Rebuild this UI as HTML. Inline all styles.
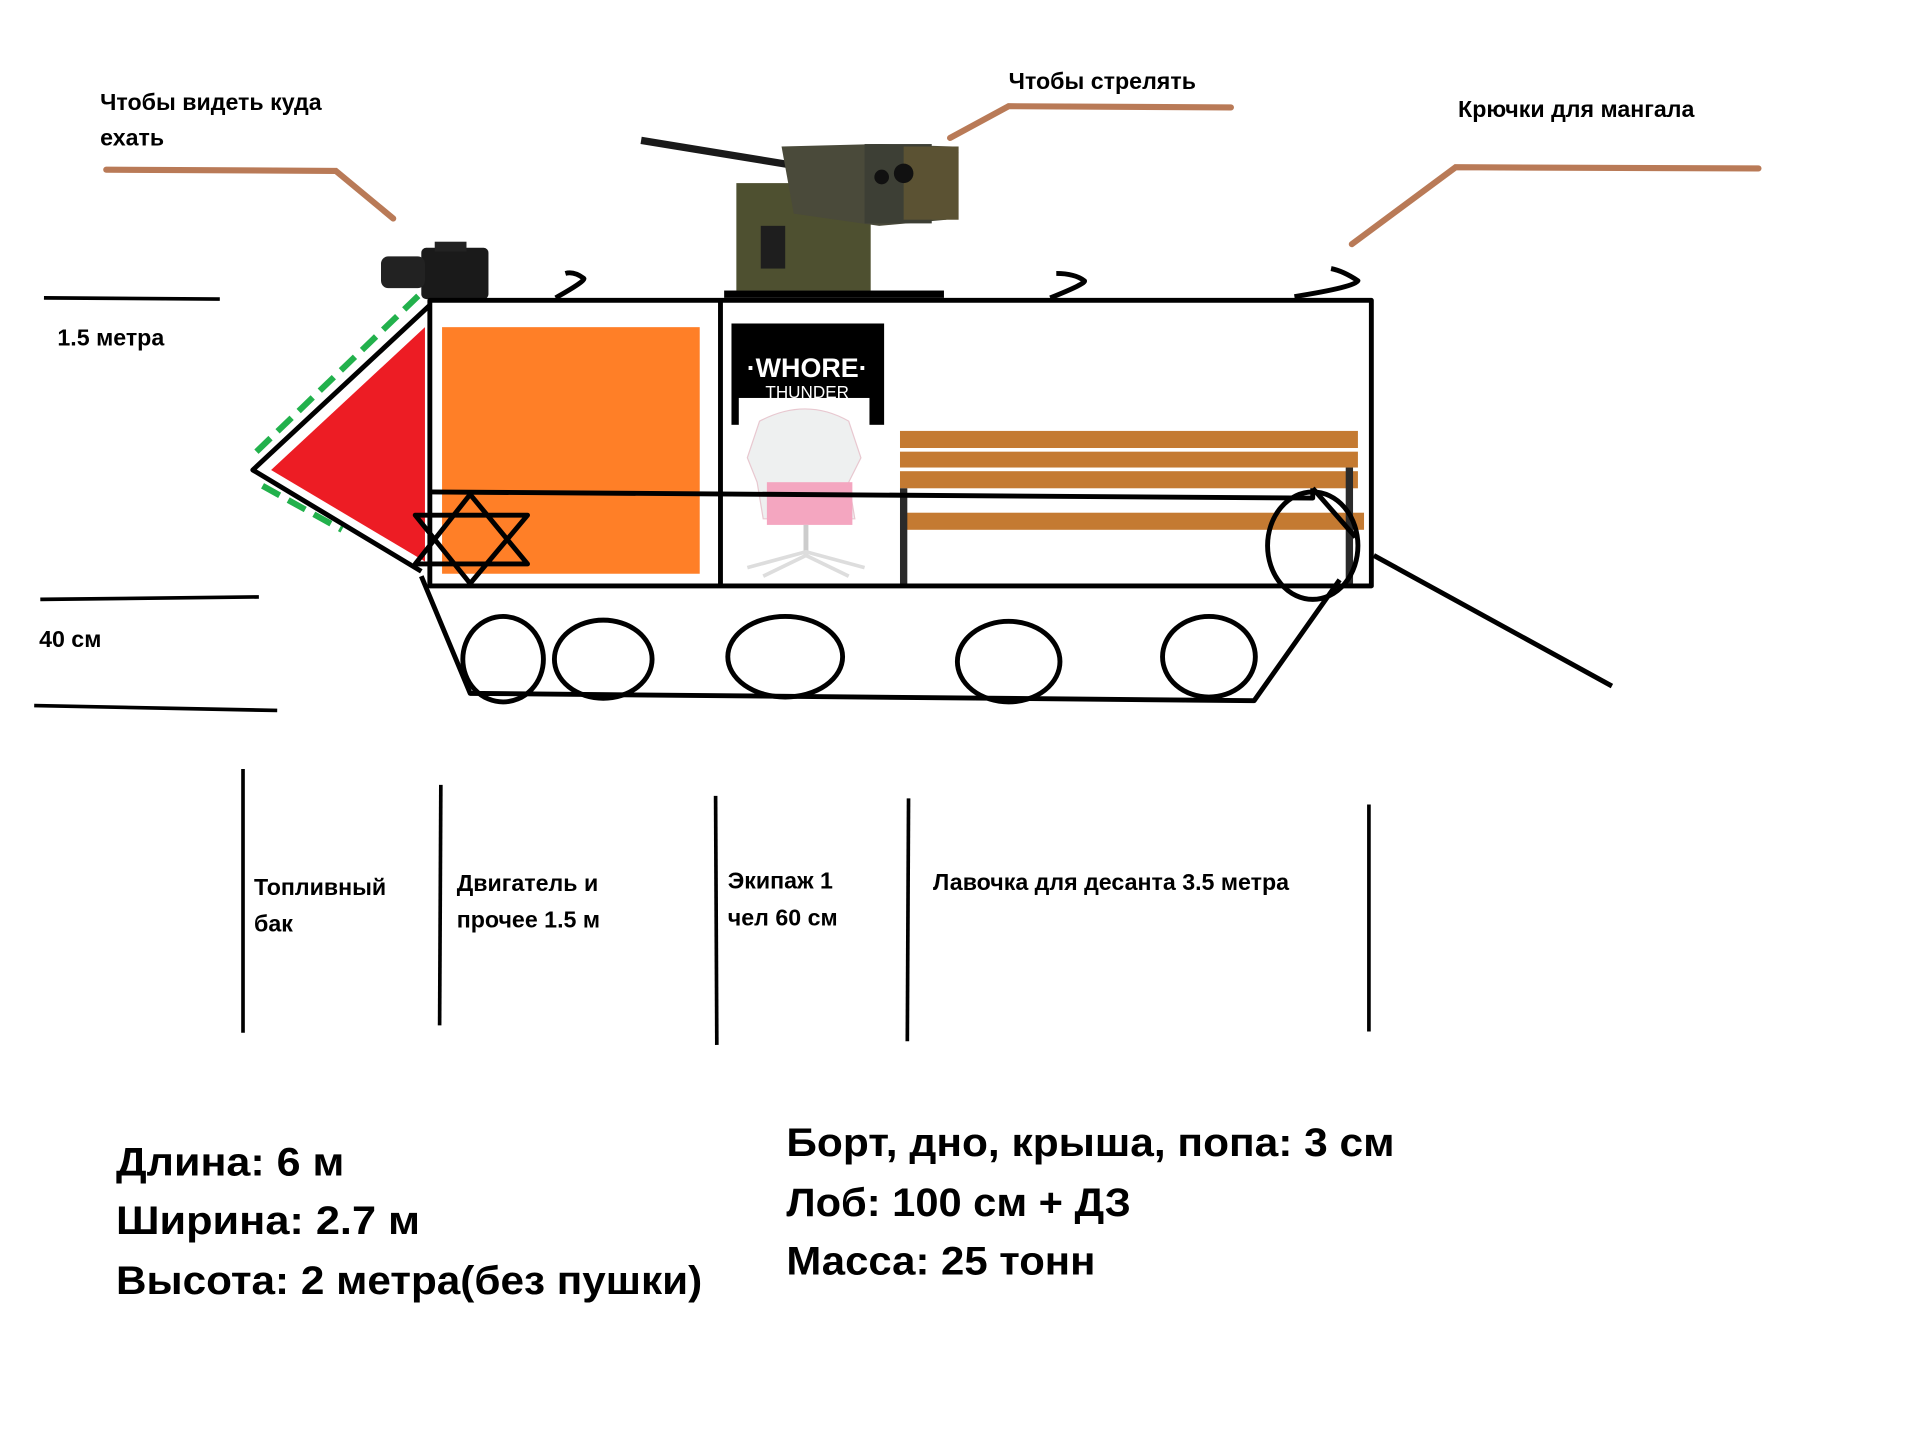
<!DOCTYPE html>
<html><head><meta charset="utf-8"><style>
html,body{margin:0;padding:0;background:#fff;width:1905px;height:1449px;overflow:hidden}
svg{display:block}
text{font-family:"Liberation Sans","DejaVu Sans",sans-serif;font-weight:bold;fill:#000}
</style></head><body>
<svg width="1905" height="1449" viewBox="0 0 1560 1187" preserveAspectRatio="none" xmlns="http://www.w3.org/2000/svg">
<rect width="1560" height="1187" fill="#fff"/>
<text x="82" y="90" font-size="19">Чтобы видеть куда</text>
<text x="82" y="119" font-size="19">ехать</text>
<text x="826" y="73" font-size="19">Чтобы стрелять</text>
<text x="1194" y="96" font-size="19">Крючки для мангала</text>
<text x="47" y="283" font-size="19">1.5 метра</text>
<text x="32" y="530" font-size="19">40 см</text>
<g stroke="#b97a57" stroke-width="5" fill="none" stroke-linecap="round">
<polyline points="87,139 275,140 322,179"/>
<polyline points="778,113 826,87 1008,88"/>
<polyline points="1107,200 1192,137 1440,138"/>
</g>
<g stroke="#000" stroke-width="3" fill="none">
<line x1="36" y1="244" x2="180" y2="245"/>
<line x1="33" y1="491" x2="212" y2="489"/>
<line x1="28" y1="578" x2="227" y2="582"/>
</g>
<rect x="362" y="268" width="211" height="202" fill="#ff7f27"/>
<polygon points="222,385 348,268 348,460" fill="#ed1c24"/>
<line x1="210" y1="370" x2="345" y2="240" stroke="#22b14c" stroke-width="5" stroke-dasharray="16,8"/>
<line x1="215" y1="398" x2="280" y2="434" stroke="#22b14c" stroke-width="5" stroke-dasharray="16,8"/>
<rect x="345" y="203" width="55" height="42" fill="#1a1a1a" rx="4"/>
<rect x="312" y="210" width="36" height="26" fill="#222" rx="6"/>
<rect x="356" y="198" width="26" height="8" fill="#222"/>
<g>
<line x1="525" y1="115" x2="690" y2="142" stroke="#1a1a1a" stroke-width="6"/>
<rect x="603" y="150" width="110" height="88" fill="#4e5030"/>
<rect x="623" y="185" width="20" height="35" fill="#1e1e1e"/>
<polygon points="640,120 720,118 780,120 785,125 775,180 720,185 650,175" fill="#4a4a3a"/>
<rect x="708" y="118" width="55" height="65" fill="#3d3f35"/>
<rect x="740" y="120" width="45" height="60" fill="#5b5233"/>
<circle cx="722" cy="145" r="6" fill="#111"/><circle cx="740" cy="142" r="8" fill="#111"/>
</g>
<rect x="593" y="238" width="180" height="6" fill="#000"/>
<rect x="599" y="265" width="125" height="83" fill="#000"/>
<rect x="605" y="326" width="107" height="24" fill="#fff"/>
<text x="661" y="309" font-size="22" text-anchor="middle" style="fill:#fff">·WHORE·</text>
<text x="661" y="326" font-size="14" text-anchor="middle" style="fill:#fff;font-weight:normal">THUNDER</text>
<path d="M622,345 Q660,325 695,345 L705,375 L695,395 L700,425 L625,425 L620,395 L612,375 Z" fill="#eef0f0" stroke="#e8c8d0"/>
<rect x="628" y="395" width="70" height="35" fill="#f4a6c0"/>
<line x1="660" y1="430" x2="660" y2="455" stroke="#ccc" stroke-width="4"/>
<path d="M612,465 L660,452 L708,465 M625,472 L660,455 L695,472" stroke="#ddd" stroke-width="3" fill="none"/>
<g>
<rect x="737" y="353" width="375" height="14" fill="#c47a32"/>
<rect x="737" y="370" width="375" height="13" fill="#c47a32"/>
<rect x="737" y="386" width="375" height="14" fill="#c47a32"/>
<rect x="737" y="420" width="380" height="14" fill="#c47a32"/>
<rect x="737" y="400" width="6" height="78" fill="#2a2a2a"/>
<rect x="1102" y="383" width="6" height="95" fill="#2a2a2a"/>
</g>
<g stroke="#000" stroke-width="4" fill="none" stroke-linejoin="round">
<rect x="352" y="246" width="771" height="234"/>
<line x1="590" y1="246" x2="590" y2="480"/>
<polyline points="352,250 207,385 345,468"/>
<polyline points="352,403 1075,408 1075,400"/>
<line x1="1075" y1="400" x2="1110" y2="440"/>
<ellipse cx="1075" cy="447" rx="37" ry="44"/>
<polyline points="345,472 385,568 1027,574 1097,475"/>
<line x1="1125" y1="455" x2="1320" y2="562"/>
<ellipse cx="412" cy="540" rx="33" ry="35"/>
<ellipse cx="494" cy="540" rx="40" ry="32"/>
<ellipse cx="643" cy="538" rx="47" ry="33"/>
<ellipse cx="826" cy="542" rx="42" ry="33"/>
<ellipse cx="990" cy="538" rx="38" ry="33"/>
<polygon points="385,405 432,462 340,462"/>
<polygon points="385,478 432,422 340,422"/>
<path d="M455,244 Q480,230 478,228 Q470,222 463,224"/>
<path d="M860,244 Q890,232 888,230 Q880,224 865,224"/>
<path d="M1060,243 Q1110,235 1112,230 Q1100,222 1090,220"/>
</g>
<g stroke="#000" stroke-width="3">
<line x1="199" y1="630" x2="199" y2="846"/>
<line x1="361" y1="643" x2="360" y2="840"/>
<line x1="586" y1="652" x2="587" y2="856"/>
<line x1="744" y1="654" x2="743" y2="853"/>
<line x1="1121" y1="659" x2="1121" y2="845"/>
</g>
<text x="208" y="733" font-size="19">Топливный</text>
<text x="208" y="763" font-size="19">бак</text>
<text x="374" y="730" font-size="19">Двигатель и</text>
<text x="374" y="760" font-size="19">прочее 1.5 м</text>
<text x="596" y="728" font-size="19">Экипаж 1</text>
<text x="596" y="758" font-size="19">чел 60 см</text>
<text x="764" y="729" font-size="19">Лавочка для десанта 3.5 метра</text>
<text x="95" y="963" font-size="33" textLength="187" lengthAdjust="spacingAndGlyphs">Длина: 6 м</text>
<text x="95" y="1011" font-size="33" textLength="249" lengthAdjust="spacingAndGlyphs">Ширина: 2.7 м</text>
<text x="95" y="1060" font-size="33" textLength="480" lengthAdjust="spacingAndGlyphs">Высота: 2 метра(без пушки)</text>
<text x="644" y="947" font-size="33" textLength="498" lengthAdjust="spacingAndGlyphs">Борт, дно, крыша, попа: 3 см</text>
<text x="644" y="996" font-size="33" textLength="282" lengthAdjust="spacingAndGlyphs">Лоб: 100 см + ДЗ</text>
<text x="644" y="1044" font-size="33" textLength="253" lengthAdjust="spacingAndGlyphs">Масса: 25 тонн</text>
</svg>
</body></html>
